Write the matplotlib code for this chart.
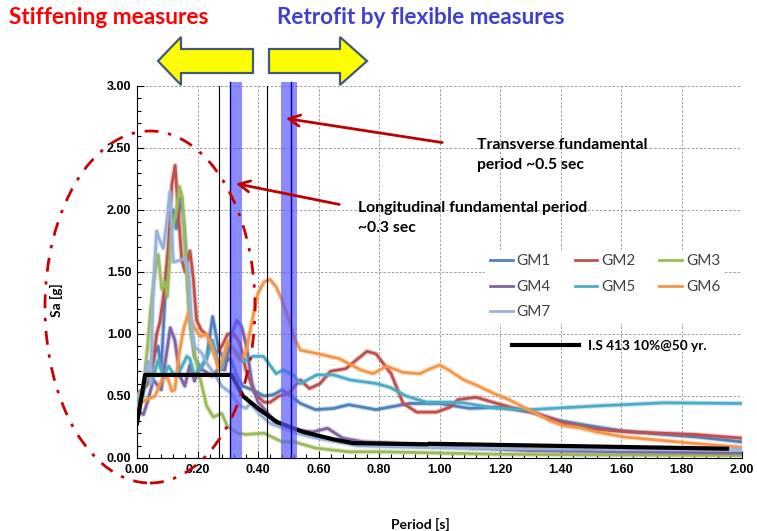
import numpy as np
import matplotlib
matplotlib.use('Agg')
import matplotlib.pyplot as plt
import matplotlib.patches as mpatches
import matplotlib.patheffects as pe
from matplotlib.ticker import MultipleLocator, FormatStrFormatter

# ground motion spectra (period [s], Sa [g])
t_gm1 = [0, 0.02, 0.04, 0.06, 0.07, 0.08, 0.095, 0.11, 0.12, 0.13, 0.145, 0.155, 0.165, 0.175, 0.19, 0.21, 0.23, 0.25, 0.27, 0.29, 0.31, 0.33, 0.35, 0.38, 0.42, 0.45, 0.48, 0.51, 0.54, 0.59, 0.65, 0.70, 0.79, 0.9, 1.0, 1.1, 1.2, 1.3, 1.4, 1.52, 1.6, 1.74, 1.85, 2.0]
sa_gm1 = [0.5, 0.55, 0.62, 0.85, 0.9, 0.72, 1.4, 1.85, 2.0, 1.85, 2.1, 1.9, 1.55, 1.1, 0.82, 0.72, 0.8, 1.14, 0.88, 0.78, 0.8, 0.66, 0.58, 0.55, 0.5, 0.51, 0.55, 0.5, 0.44, 0.39, 0.4, 0.43, 0.39, 0.44, 0.44, 0.40, 0.41, 0.37, 0.30, 0.25, 0.22, 0.19, 0.17, 0.13]

t_gm2 = [0, 0.02, 0.04, 0.055, 0.065, 0.076, 0.09, 0.104, 0.115, 0.126, 0.136, 0.148, 0.159, 0.175, 0.186, 0.197, 0.213, 0.236, 0.258, 0.28, 0.30, 0.32, 0.34, 0.36, 0.39, 0.42, 0.44, 0.47, 0.50, 0.54, 0.57, 0.605, 0.64, 0.69, 0.76, 0.79, 0.84, 0.88, 0.925, 0.99, 1.035, 1.06, 1.12, 1.19, 1.25, 1.31, 1.41, 1.52, 1.63, 1.84, 2.0]
sa_gm2 = [0.52, 0.55, 0.62, 0.8, 1.0, 1.1, 1.35, 1.7, 2.2, 2.36, 2.0, 1.6, 1.5, 1.67, 1.45, 1.11, 1.03, 0.98, 0.83, 0.9, 1.0, 1.0, 0.93, 0.71, 0.52, 0.45, 0.45, 0.5, 0.52, 0.63, 0.56, 0.6, 0.7, 0.72, 0.86, 0.84, 0.68, 0.44, 0.37, 0.37, 0.41, 0.47, 0.49, 0.44, 0.40, 0.37, 0.28, 0.23, 0.21, 0.19, 0.16]

t_gm3 = [0, 0.02, 0.035, 0.045, 0.06, 0.07, 0.082, 0.093, 0.10, 0.114, 0.13, 0.14, 0.15, 0.16, 0.175, 0.19, 0.213, 0.23, 0.252, 0.28, 0.30, 0.335, 0.36, 0.42, 0.48, 0.52, 0.59, 0.70, 0.81, 1.0, 1.2, 1.5, 2.0]
sa_gm3 = [0.45, 0.55, 0.9, 1.2, 1.5, 1.64, 1.36, 1.42, 1.3, 1.82, 1.99, 2.19, 2.1, 1.66, 1.1, 0.84, 0.6, 0.42, 0.33, 0.36, 0.25, 0.2, 0.19, 0.2, 0.13, 0.13, 0.08, 0.05, 0.05, 0.04, 0.03, 0.025, 0.02]

t_gm4 = [0, 0.021, 0.037, 0.054, 0.08, 0.095, 0.11, 0.125, 0.142, 0.158, 0.175, 0.19, 0.205, 0.225, 0.247, 0.27, 0.29, 0.313, 0.33, 0.346, 0.362, 0.38, 0.40, 0.43, 0.46, 0.52, 0.58, 0.63, 0.68, 0.75, 0.85, 0.95, 1.1, 1.3, 1.6, 2.0]
sa_gm4 = [0.39, 0.35, 0.47, 0.63, 0.55, 0.8, 1.05, 0.95, 0.66, 0.58, 0.75, 0.62, 0.72, 0.7, 0.66, 0.72, 0.71, 1.0, 1.11, 1.06, 0.9, 0.6, 0.45, 0.37, 0.27, 0.23, 0.21, 0.24, 0.16, 0.13, 0.12, 0.11, 0.08, 0.06, 0.05, 0.04]

t_gm5 = [0, 0.02, 0.037, 0.05, 0.07, 0.087, 0.104, 0.125, 0.145, 0.165, 0.175, 0.19, 0.213, 0.236, 0.25, 0.265, 0.28, 0.30, 0.32, 0.335, 0.35, 0.37, 0.384, 0.418, 0.46, 0.483, 0.516, 0.54, 0.594, 0.65, 0.704, 0.792, 0.836, 0.89, 0.957, 1.035, 1.078, 1.19, 1.3, 1.52, 1.74, 2.0]
sa_gm5 = [0.45, 0.5, 0.77, 0.62, 0.79, 0.66, 0.74, 0.66, 0.72, 0.82, 0.8, 0.66, 0.74, 0.84, 0.95, 0.8, 0.72, 0.93, 0.88, 0.83, 0.78, 0.8, 0.82, 0.82, 0.68, 0.71, 0.67, 0.60, 0.67, 0.67, 0.63, 0.6, 0.57, 0.5, 0.45, 0.45, 0.445, 0.40, 0.39, 0.42, 0.445, 0.44]

t_gm6 = [0, 0.03, 0.06, 0.08, 0.10, 0.115, 0.125, 0.14, 0.155, 0.17, 0.19, 0.21, 0.23, 0.25, 0.27, 0.29, 0.30, 0.32, 0.34, 0.36, 0.38, 0.40, 0.42, 0.44, 0.46, 0.48, 0.50, 0.52, 0.54, 0.60, 0.67, 0.74, 0.78, 0.825, 0.88, 0.935, 0.97, 1.0, 1.03, 1.08, 1.12, 1.18, 1.23, 1.31, 1.365, 1.41, 1.46, 1.52, 1.61, 1.72, 1.83, 2.0]
sa_gm6 = [0.42, 0.47, 0.5, 0.62, 0.66, 0.54, 0.55, 0.85, 1.05, 1.17, 1.05, 0.98, 1.0, 0.88, 0.71, 0.85, 0.94, 0.86, 0.79, 0.85, 1.1, 1.33, 1.42, 1.44, 1.38, 1.27, 1.13, 0.97, 0.87, 0.84, 0.8, 0.71, 0.68, 0.74, 0.69, 0.68, 0.72, 0.75, 0.71, 0.63, 0.59, 0.52, 0.47, 0.37, 0.30, 0.26, 0.245, 0.21, 0.17, 0.145, 0.12, 0.086]

t_gm7 = [0, 0.02, 0.037, 0.045, 0.054, 0.065, 0.076, 0.087, 0.098, 0.109, 0.12, 0.137, 0.159, 0.17, 0.18, 0.19, 0.213, 0.235, 0.258, 0.28, 0.313, 0.335, 0.36, 0.374, 0.407, 0.44, 0.483, 0.527, 0.594, 0.66, 0.726, 0.85, 1.035, 1.3, 1.6, 2.0]
sa_gm7 = [0.5, 0.55, 0.78, 0.6, 1.39, 1.83, 1.75, 1.69, 1.9, 2.15, 1.58, 1.59, 1.61, 1.52, 1.1, 0.9, 0.85, 0.75, 0.67, 0.58, 0.52, 0.43, 0.4, 0.44, 0.35, 0.28, 0.24, 0.2, 0.16, 0.13, 0.1, 0.09, 0.08, 0.075, 0.07, 0.07]

# code spectrum I.S 413
t_code = [0, 0.027, 0.313, 0.35, 0.40, 0.463, 0.55, 0.65, 0.714, 0.96, 0.965, 1.95]
sa_code = [0.28, 0.67, 0.67, 0.5, 0.4, 0.29, 0.21, 0.15, 0.12, 0.11, 0.115, 0.075]

gm_names = ['GM1', 'GM2', 'GM3', 'GM4', 'GM5', 'GM6', 'GM7']
gm_t = [t_gm1, t_gm2, t_gm3, t_gm4, t_gm5, t_gm6, t_gm7]
gm_sa = [sa_gm1, sa_gm2, sa_gm3, sa_gm4, sa_gm5, sa_gm6, sa_gm7]
gm_colors = ['#4F81BD', '#C0504D', '#9BBB59', '#8064A2', '#4BACC6', '#F79646', '#95B3D7']

# fundamental periods marked on the chart
thin_lines = [0.271, 0.43]
bands = [(0.307, 0.347), (0.476, 0.529)]
band_lines = [0.307, 0.509]

W, H = 757, 531
fig = plt.figure(figsize=(W / 100, H / 100), dpi=100)
ax = fig.add_axes([137 / W, 1 - 458 / H, 605 / W, 372 / H])

def fx(px):
    return px / W

def fy(py):
    return 1 - py / H

lines = []
for name, t, sa, c in zip(gm_names, gm_t, gm_sa, gm_colors):
    l, = ax.plot(t, sa, color=c, lw=2, label=name, zorder=3,
                 path_effects=[pe.Stroke(linewidth=3.6, foreground=c, alpha=0.3), pe.Normal()])
    lines.append(l)

code_line, = ax.plot(t_code, sa_code, color='black', lw=3, zorder=4, label='I.S 413 10%@50 yr.')

for x in thin_lines:
    ax.axvline(x, color='black', lw=0.8, zorder=5)
for a, b in bands:
    ax.add_patch(mpatches.Rectangle((a, 0), b - a, 3.03, facecolor='#5a5aff', alpha=0.7,
                                    edgecolor='none', zorder=6, clip_on=False))
for x in band_lines:
    ax.plot([x, x], [0, 3.03], color='#000080', lw=1, zorder=7, clip_on=False)

ax.set_xlim(0, 2.0)
ax.set_ylim(0, 3.0)
ax.xaxis.set_major_locator(MultipleLocator(0.2))
ax.xaxis.set_minor_locator(MultipleLocator(0.04))
ax.yaxis.set_major_locator(MultipleLocator(0.5))
ax.yaxis.set_minor_locator(MultipleLocator(0.1))
ax.xaxis.set_major_formatter(FormatStrFormatter('%.2f'))
ax.yaxis.set_major_formatter(FormatStrFormatter('%.2f'))
ax.grid(True, which='major', color='#909090', lw=0.6, ls=(0, (3, 2)))
ax.set_axisbelow(True)
for s in ['top', 'right']:
    ax.spines[s].set_visible(False)
ax.spines['left'].set_color('black')
ax.spines['bottom'].set_color('black')
ax.tick_params(which='major', direction='in', length=5, width=0.8, pad=4)
ax.tick_params(which='minor', direction='in', length=3, width=0.8)
for lab in ax.get_xticklabels() + ax.get_yticklabels():
    lab.set_fontfamily('Liberation Sans')
    lab.set_fontweight('bold')
    lab.set_fontsize(9)

ax.set_xlabel('Period [s]', fontfamily='Lato', fontweight='bold', fontsize=10)
ax.xaxis.set_label_coords(0.468, -0.16)
ax.set_ylabel('Sa [g]', fontfamily='Lato', fontweight='bold', fontsize=10)
ax.yaxis.set_label_coords(-0.122, 0.425)

order = [0, 3, 6, 1, 4, 2, 5]
leg1 = ax.legend([lines[i] for i in order], [gm_names[i] for i in order], ncol=3,
                 loc='upper left', bbox_to_anchor=(0.563, 0.58), frameon=True,
                 facecolor='white', edgecolor='none', framealpha=1, fancybox=False,
                 prop={'family': 'Lato', 'size': 11}, handlelength=1.5, handletextpad=0.25,
                 columnspacing=1.55, labelspacing=0.75, borderpad=0.3, labelcolor='#404040')
leg1.set_zorder(8)
for h in leg1.get_lines():
    h.set_path_effects([])
ax.add_artist(leg1)
leg2 = ax.legend([code_line], ['I.S 413 10%@50 yr.'], loc='center left',
                 bbox_to_anchor=(0.6, 0.302), frameon=False,
                 prop={'family': 'Lato', 'size': 9.8, 'weight': 'bold'},
                 handlelength=4.9, handletextpad=0.65)
leg2.set_zorder(8)

# top titles
fig.text(fx(9), fy(18), 'Stiffening measures', color='#ff0000', fontfamily='Lato',
         fontweight='bold', fontsize=16.3, va='center', ha='left')
fig.text(fx(277), fy(18), 'Retrofit by flexible measures', color='#3f3fd0', fontfamily='Lato',
         fontweight='bold', fontsize=16.2, va='center', ha='left')

# yellow block arrows
left_arrow = [(158, 61), (181, 37), (181, 49), (253, 49), (253, 73), (181, 73), (181, 85)]
right_arrow = [(367, 61), (340, 37), (340, 49), (269, 49), (269, 73), (340, 73), (340, 85)]
for pts in (left_arrow, right_arrow):
    fig.add_artist(mpatches.Polygon([(fx(x), fy(y)) for x, y in pts], closed=True,
                                    facecolor='#ffff00', edgecolor='#3e5a78', lw=1.6,
                                    transform=fig.transFigure))

# dash-dot ellipse around the short period peaks
fig.add_artist(mpatches.Ellipse((fx(150), fy(307)), 210 / W, 352 / H, transform=fig.transFigure,
                                fill=False, edgecolor='#cc0000', lw=2,
                                ls=(0, (5, 3.5, 1.2, 3.5)), zorder=10))

# red pointer arrows and notes
for (x0, y0), (x1, y1) in [((445, 143), (283, 118)), ((342, 205), (233, 183))]:
    ax.annotate('', xy=(fx(x1), fy(y1)), xycoords='figure fraction',
                xytext=(fx(x0), fy(y0)), textcoords='figure fraction',
                arrowprops=dict(arrowstyle='->,head_length=0.8,head_width=0.4',
                                color='#c00000', lw=2), annotation_clip=False, zorder=11)

fig.text(fx(477), fy(138), 'Transverse fundamental\nperiod ~0.5 sec', fontfamily='Lato',
         fontweight='bold', fontsize=11.3, va='top', ha='left', linespacing=1.55, zorder=11)
fig.text(fx(358), fy(201), 'Longitudinal fundamental period\n~0.3 sec', fontfamily='Lato',
         fontweight='bold', fontsize=11.3, va='top', ha='left', linespacing=1.55, zorder=11)

fig.savefig('out.png', dpi=100)
